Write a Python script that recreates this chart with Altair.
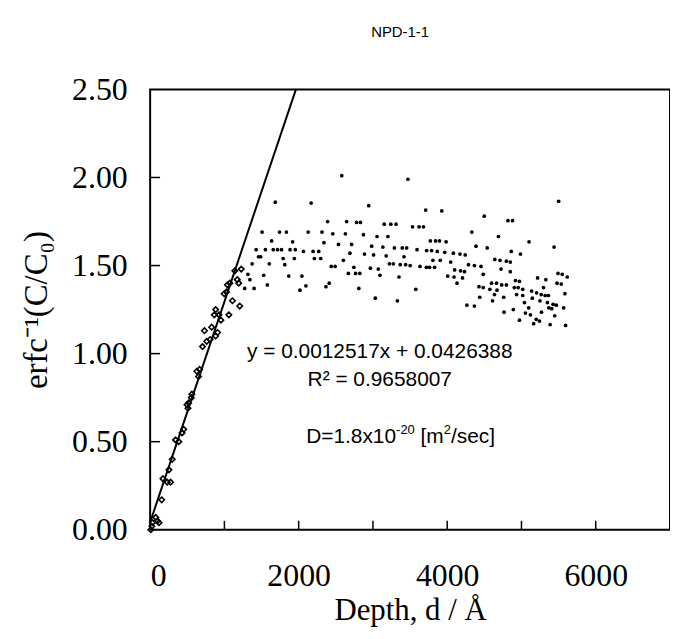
import altair as alt
import pandas as pd

# ---- data ----
open_depth = [9, 23, 31, 76, 97, 120, 156, 173, 230, 275, 253, 297, 342, 386, 430, 452,
              496, 519, 509, 555, 562, 652, 629, 665, 705, 762, 807, 731, 882, 908, 828,
              953, 864, 927, 882, 1060, 1206, 1108, 997, 1028, 1041, 1073, 1174, 1193,
              1140, 1227]
open_val = [0.00, 0.02, 0.04, 0.07, 0.05, 0.04, 0.17, 0.29, 0.27, 0.27, 0.34, 0.40, 0.51,
            0.50, 0.55, 0.57, 0.71, 0.72, 0.69, 0.75, 0.77, 0.87, 0.90, 0.91, 1.04, 1.07,
            1.08, 1.13, 1.10, 1.12, 1.15, 1.19, 1.22, 1.22, 1.25, 1.22, 1.27, 1.30, 1.34,
            1.35, 1.39, 1.40, 1.42, 1.40, 1.47, 1.48]

dot_depth_a = [2580, 1685, 2168, 2390, 2646, 2779, 2832, 1507, 1742, 1835, 2128, 2314, 2460,
               2629, 1636, 1919, 2340, 2536, 2713, 1427, 1552, 1658, 1715, 1769, 1884, 1955,
               2065, 2194, 2270, 2690, 1459, 1489, 1791, 1942, 2211, 2297, 2602, 1374, 1605,
               1813, 2438, 2491, 2743, 1316, 1529, 1866, 2044, 2669, 2766, 2823, 1343, 1578,
               2097, 2411, 2367, 2017, 1273, 1400, 2810]
dot_val_a = [2.01, 1.86, 1.855, 1.75, 1.75, 1.745, 1.745, 1.69, 1.69, 1.69, 1.69, 1.69, 1.68,
             1.68, 1.64, 1.635, 1.63, 1.62, 1.62, 1.59, 1.59, 1.59, 1.59, 1.59, 1.59, 1.59,
             1.58, 1.58, 1.58, 1.57, 1.55, 1.55, 1.54, 1.54, 1.54, 1.54, 1.53, 1.51, 1.51,
             1.505, 1.495, 1.495, 1.49, 1.45, 1.445, 1.44, 1.44, 1.455, 1.455, 1.455, 1.42,
             1.39, 1.385, 1.40, 1.38, 1.36, 1.37, 1.37, 1.37]

dot_depth_b = [3471, 2943, 3710, 3927, 4499, 3152, 3241, 3311, 3533, 3621, 3680, 4331, 2872,
               3055, 3201, 3773, 3843, 3896, 3985, 2983, 3134, 3289, 3395, 3454, 3594, 3723,
               3790, 3866, 3967, 4083, 4172, 4242, 4388, 2886, 3009, 3178, 3418, 3807, 3906,
               4047, 3222, 3275, 3368, 3440, 3501, 3634, 3719, 3763, 3830, 4286, 4366, 4455,
               2965, 3072, 3094, 3351, 4007, 4092, 4206, 4100, 4180, 4233, 4485, 4132, 3577,
               4428, 4485, 3032, 3329, 4438, 4265, 4366]
dot_val_b = [1.99, 1.84, 1.815, 1.81, 1.78, 1.735, 1.735, 1.735, 1.72, 1.72, 1.72, 1.69, 1.675,
             1.665, 1.665, 1.64, 1.64, 1.64, 1.635, 1.61, 1.605, 1.60, 1.60, 1.60, 1.59, 1.585,
             1.585, 1.58, 1.575, 1.57, 1.565, 1.56, 1.61, 1.565, 1.56, 1.555, 1.55, 1.53, 1.53,
             1.52, 1.51, 1.51, 1.505, 1.505, 1.50, 1.495, 1.49, 1.49, 1.49, 1.505, 1.50, 1.495,
             1.485, 1.48, 1.445, 1.435, 1.44, 1.435, 1.43, 1.475, 1.47, 1.465, 1.45, 1.40, 1.365,
             1.38, 1.375, 1.315, 1.30, 1.32, 1.275, 1.27]

dot_depth_c = [5501, 4818, 4880, 4690, 5102, 5439, 4539, 4863, 4987, 4641, 4711, 4797, 4850,
               4725, 4850, 5492, 5549, 5616, 5217, 5328, 4920, 4973, 5479, 5536, 4597, 4664,
               4734, 4797, 4574, 4671, 4903, 4956, 5017, 5297, 5137, 5204, 5266, 5319, 5363,
               5585, 4637, 4934, 5017, 4761, 5146, 5249, 4610, 5040, 5350, 5426, 5469, 5097,
               5368, 5408, 5568, 4890, 4765, 5270, 5053, 5120, 5448, 4973, 5199, 5243, 5164,
               5386, 5594]
dot_val_c = [1.865, 1.755, 1.755, 1.665, 1.635, 1.605, 1.60, 1.58, 1.565, 1.535, 1.53, 1.525,
             1.52, 1.48, 1.465, 1.455, 1.45, 1.435, 1.43, 1.42, 1.415, 1.41, 1.40, 1.395, 1.40,
             1.40, 1.39, 1.39, 1.365, 1.36, 1.375, 1.375, 1.365, 1.375, 1.355, 1.345, 1.335,
             1.33, 1.33, 1.34, 1.335, 1.335, 1.33, 1.32, 1.315, 1.30, 1.30, 1.29, 1.29, 1.28,
             1.275, 1.26, 1.26, 1.255, 1.26, 1.25, 1.235, 1.235, 1.23, 1.22, 1.215, 1.19, 1.195,
             1.185, 1.17, 1.165, 1.16]

fit_depth = [0, 1963]
fit_val = [0.0426, 2.5]

x_labels = [0, 2000, 4000, 6000]
x_ticks = [1000, 2000, 3000, 4000, 5000, 6000]
y_labels = [0, 0.5, 1.0, 1.5, 2.0, 2.5]
y_ticks = [0.5, 1.0, 1.5, 2.0]

title_text = "NPD-1-1"
eq_text = "y = 0.0012517x + 0.0426388"
r2_text = "R² = 0.9658007"
# D line pieces: (text, is_superscript, leading space)
d_parts = [("D=1.8x10", False, False), ("-20", True, False), ("[m", False, True),
           ("2", True, False), ("/sec]", False, False)]

# ---- build ----
W, H = 523, 443
SERIF = "Liberation Serif"
SANS = "Liberation Sans"
FS = 21      # annotation font size
FS_SUP = 13  # superscript font size

xs = alt.Scale(domain=[0, 7000], nice=False, zero=False)
ys = alt.Scale(domain=[0, 2.5], nice=False, zero=False)

x_axis = alt.Axis(values=x_labels, format="d", ticks=False, domain=False, grid=False,
                  labelFont=SERIF, labelFontSize=32, labelColor="black", labelPadding=31,
                  title="Depth, d / Å", titleFont=SERIF, titleFontSize=31,
                  titleFontWeight="normal", titleColor="black", titlePadding=4)
y_axis = alt.Axis(values=y_labels, format=".2f", ticks=False, domain=False, grid=False,
                  labelFont=SERIF, labelFontSize=32, labelColor="black", labelPadding=23,
                  title="erfc⁻¹(C/C₀)", titleFont=SERIF, titleFontSize=33,
                  titleFontWeight="normal", titleColor="black", titlePadding=18)

X = alt.X("depth:Q", scale=xs, axis=x_axis)
Y = alt.Y("val:Q", scale=ys, axis=y_axis)

open_df = pd.DataFrame({"depth": open_depth, "val": open_val})
dot_df = pd.DataFrame({"depth": dot_depth_a + dot_depth_b + dot_depth_c,
                       "val": dot_val_a + dot_val_b + dot_val_c})
fit_df = pd.DataFrame({"depth": fit_depth, "val": fit_val})
xt_df = pd.DataFrame({"depth": x_ticks})
yt_df = pd.DataFrame({"val": y_ticks})

fit = alt.Chart(fit_df).mark_line(color="black", strokeWidth=2, clip=True).encode(x=X, y=Y)
opens = alt.Chart(open_df).mark_point(shape="diamond", filled=False, color="black",
                                      size=30, strokeWidth=1.6, opacity=1).encode(x=X, y=Y)
dots = alt.Chart(dot_df).mark_circle(color="black", size=14, opacity=1).encode(x=X, y=Y)

xt = alt.Chart(xt_df).mark_rule(color="black", strokeWidth=1.5).encode(
    x=X, y=alt.value(H), y2=alt.value(H - 9))
yt = alt.Chart(yt_df).mark_rule(color="black", strokeWidth=1.5).encode(
    y=Y, x=alt.value(0), x2=alt.value(10))


def note(txt, xv, yv, align="center", dx=0, dy=0, size=FS):
    return alt.Chart(pd.DataFrame({"t": [txt]})).mark_text(
        font=SANS, fontSize=size, color="black", align=align, baseline="middle",
        dx=dx, dy=dy
    ).encode(x=alt.datum(xv, scale=xs), y=alt.datum(yv, scale=ys), text="t:N")


# Arial advance widths (per em) for placing the D-line pieces one after another
ADV = {"D": .722, "=": .584, "1": .556, ".": .278, "8": .556, "x": .5, "0": .556,
       "-": .333, "2": .556, " ": .278, "[": .278, "m": .833, "/": .278, "s": .5,
       "e": .556, "c": .5, "]": .278}

layers = [fit, opens, dots, xt, yt,
          note(eq_text, 3092, 1.01),
          note(r2_text, 3092, 0.852)]

offset = 0.0
for txt, sup, space in d_parts:
    size = FS_SUP if sup else FS
    if space:
        offset += ADV[" "] * FS
    layers.append(note(txt, 2101, 0.525, align="left", dx=offset,
                       dy=-7 if sup else 0, size=size))
    offset += sum(ADV.get(ch, .556) for ch in txt) * size

title = alt.Chart(pd.DataFrame({"t": [title_text]})).mark_text(
    font=SANS, fontSize=15, color="black", align="center", baseline="middle"
).encode(x=alt.value(W / 2 - 10), y=alt.value(-58), text="t:N")
layers.append(title)

chart = alt.layer(*layers).properties(
    width=W, height=H,
    autosize=alt.AutoSizeParams(type="none"),
    padding={"left": 143, "top": 80, "right": 0, "bottom": 108},
    background="white",
).configure_view(stroke="black", strokeWidth=2)

chart.save("out.html", embed_options={"renderer": "svg", "actions": False})
